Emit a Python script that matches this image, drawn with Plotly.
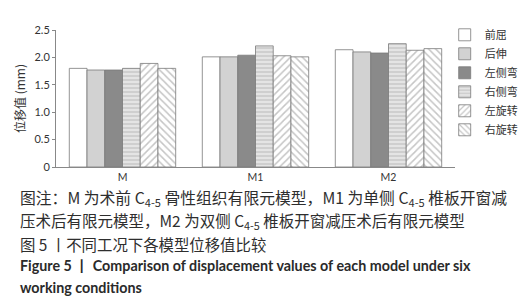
import plotly.graph_objects as go

models = ["M", "M1", "M2"]
conditions = ["前屈", "后伸", "左侧弯", "右侧弯", "左旋转", "右旋转"]
v_qianqu = [1.80, 2.01, 2.14]
v_houshen = [1.77, 2.01, 2.10]
v_zuoceWan = [1.77, 2.04, 2.08]
v_youceWan = [1.80, 2.21, 2.25]
v_zuoxuan = [1.89, 2.03, 2.13]
v_youxuan = [1.80, 2.01, 2.16]
series = [v_qianqu, v_houshen, v_zuoceWan, v_youceWan, v_zuoxuan, v_youxuan]

y_ticks = [0, 0.5, 1.0, 1.5, 2.0, 2.5]
y_ticktext = ["0", "0.5", "1.0", "1.5", "2.0", "2.5"]

styles = [
    dict(color="#ffffff", pattern=None),
    dict(color="#d2d2d2", pattern=None),
    dict(color="#8a8a8a", pattern=None),
    dict(color="#e4e4e4", pattern=dict(shape="-", fgcolor="#a8a8a8", bgcolor="#e4e4e4", size=4, solidity=0.35)),
    dict(color="#ffffff", pattern=dict(shape="/", fgcolor="#8c8c8c", bgcolor="#ffffff", size=5, solidity=0.3)),
    dict(color="#ffffff", pattern=dict(shape="\\", fgcolor="#8c8c8c", bgcolor="#ffffff", size=5, solidity=0.3)),
]

fig = go.Figure()
for name, vals, st in zip(conditions, series, styles):
    marker = dict(color=st["color"], line=dict(color="#7a7a7a", width=0.8))
    if st["pattern"]:
        marker["pattern"] = st["pattern"]
    fig.add_trace(go.Bar(x=models, y=vals, name=name, marker=marker))

W, H = 527, 300
top_px, bot_px = 14.3, 159.5
left_px, right_px = 48, 474

def py(p):
    return (bot_px - p) / (bot_px - top_px)

def px(p):
    return (p - left_px) / (right_px - left_px)

cjk = "Noto Sans CJK SC"
captions = [
    ("图注：M 为术前 C<sub>4-5</sub> 骨性组织有限元模型，M1 为单侧 C<sub>4-5</sub> 椎板开窗减", 192, cjk, 15.8, "#2e2e2e"),
    ("压术后有限元模型，M2 为双侧 C<sub>4-5</sub> 椎板开窗减压术后有限元模型", 217, cjk, 15.5, "#2e2e2e"),
    ("图 5 丨不同工况下各模型位移值比较", 241, cjk, 15.4, "#2e2e2e"),
    ("<b>Figure 5 丨 Comparison of displacement values of each model under six</b>", 264, "Lato", 14.3, "#2a2a2a"),
    ("<b>working conditions</b>", 287, "Lato", 14.3, "#2a2a2a"),
]
anns = []
for text, ypix, fam, size, col in captions:
    anns.append(dict(text=text, xref="paper", yref="paper", x=px(7), y=py(ypix),
                     xanchor="left", yanchor="middle", showarrow=False,
                     font=dict(family=fam, size=size, color=col)))

fig.update_layout(
    width=W, height=H,
    margin=dict(l=left_px, r=W - right_px, t=top_px, b=H - bot_px),
    paper_bgcolor="white", plot_bgcolor="white",
    barmode="group", bargap=0.2, bargroupgap=0.0,
    showlegend=True,
    legend=dict(x=px(463), y=py(4), xanchor="left", yanchor="top",
                font=dict(family=cjk, size=11, color="#333"),
                bgcolor="rgba(0,0,0,0)", itemwidth=30, tracegroupgap=0),
    annotations=anns,
    font=dict(family="Lato", size=10, color="#333"),
)
fig.update_xaxes(showline=True, linecolor="#888", linewidth=1, ticks="",
                 tickfont=dict(family="Lato", size=10.5, color="#333"), showgrid=False)
fig.update_yaxes(range=[0, 2.5], tickvals=y_ticks, ticktext=y_ticktext,
                 showline=True, linecolor="#888", linewidth=1, ticks="outside",
                 ticklen=3, tickcolor="#888", showgrid=False, zeroline=False,
                 tickfont=dict(family="Lato", size=11, color="#333"),
                 title=dict(text="位移值 (mm)", font=dict(family=cjk, size=12, color="#333"), standoff=6))

fig.write_html("out.html")
